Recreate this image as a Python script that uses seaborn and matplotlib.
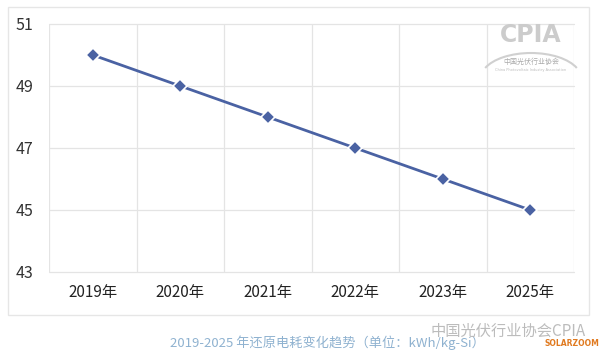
import numpy as np
import pandas as pd
import matplotlib
matplotlib.use('Agg')
import matplotlib.pyplot as plt
import seaborn as sns
from matplotlib.patches import Rectangle, Arc

years = ['2019年', '2020年', '2021年', '2022年', '2023年', '2025年']
power = [50, 49, 48, 47, 46, 45]
y_ticks = [43, 45, 47, 49, 51]
caption = '2019-2025 年还原电耗变化趋势（单位：kWh/kg-Si）'

sns.set_theme(style='white')
plt.rcParams['font.family'] = ['Noto Sans CJK SC', 'DejaVu Sans']

df = pd.DataFrame({'year': years, 'power': power})

fig = plt.figure(figsize=(6, 3.6), dpi=100)
fig.patch.set_facecolor('white')

# outer frame of the card
fig.patches.append(Rectangle((8 / 600, 1 - 315 / 360), 581 / 600, 308 / 360,
                             transform=fig.transFigure, fill=False,
                             edgecolor='#e6e6e6', linewidth=1.0))

ax = fig.add_axes([49 / 600, 1 - 272 / 360, 525 / 600, 248 / 360])
sns.lineplot(data=df, x='year', y='power', ax=ax, color='#4a62a3', linewidth=2,
             marker='D', markersize=7, markeredgecolor='white', markeredgewidth=1.2,
             sort=False)

ax.set_xlim(-0.5, len(years) - 0.5)
ax.set_ylim(43, 51)
ax.set_yticks(y_ticks)
ax.set_yticklabels([str(t) for t in y_ticks], fontsize=11.5, color='#333333')
ax.set_xticks(range(len(years)))
ax.set_xticklabels(years, fontsize=11, color='#222222')
ax.tick_params(axis='x', length=0, pad=9)
ax.tick_params(axis='y', length=0, pad=11)
ax.set_xlabel('')
ax.set_ylabel('')

# grid: horizontal at ticks, vertical at category borders
for t in y_ticks:
    ax.axhline(t, color='#e4e4e4', linewidth=0.9, zorder=0, clip_on=False)
for i in range(len(years) + 1):
    ax.axvline(i - 0.5, color='#e4e4e4', linewidth=0.9, zorder=0)
for s in ax.spines.values():
    s.set_visible(False)

# CPIA logo watermark (top right)
fig.text(531 / 600, 1 - 35 / 360, 'CPIA', fontsize=17, fontweight='bold',
         color='#cccccc', ha='center', va='center', family='DejaVu Sans')
fig.patches.append(Arc((531 / 600, 1 - 78 / 360), 100 / 600, 50 / 360,
                       theta1=20, theta2=160, transform=fig.transFigure,
                       color='#d0d0d0', linewidth=1.5))
fig.text(531 / 600, 1 - 62 / 360, '中国光伏行业协会', fontsize=5, color='#aaaaaa',
         ha='center', va='center')
fig.text(531 / 600, 1 - 70 / 360, 'China Photovoltaic Industry Association', fontsize=2.5,
         color='#bbbbbb', ha='center', va='center', family='DejaVu Sans')

# caption and watermarks
fig.text(327 / 600, 1 - 343 / 360, caption, fontsize=9.5, color='#8fb2d0',
         ha='center', va='center')
fig.text(508 / 600, 1 - 331 / 360, '中国光伏行业协会CPIA', fontsize=11, color='#b5b5b5',
         ha='center', va='center', alpha=0.9)
fig.text(572 / 600, 1 - 344 / 360, 'SOLARZOOM', fontsize=5.5, color='#e07a20',
         ha='center', va='center', family='DejaVu Sans', fontweight='bold')

fig.savefig('out.png', dpi=100, facecolor='white')
